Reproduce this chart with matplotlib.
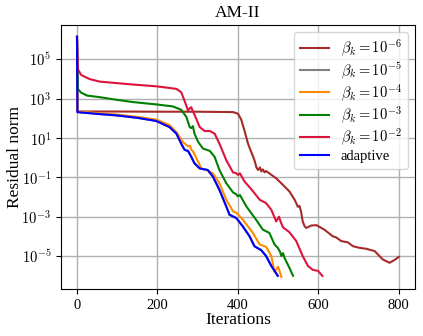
import numpy as np
import matplotlib.pyplot as plt
from matplotlib.ticker import FuncFormatter

plt.rcParams['font.family'] = ['Liberation Serif', 'DejaVu Serif']
plt.rcParams['mathtext.fontset'] = 'cm'

# iteration numbers and log10 of the residual norm
it_adapt = [0, 1, 50, 100, 150, 197, 230, 247, 259, 267, 272, 276, 284, 292, 305, 325, 338,
            354, 371, 379, 396, 412, 429, 441, 458, 470, 483, 499]
lg_adapt = [6.13, 2.31, 2.22, 2.14, 2.02, 1.86, 1.55, 1.22, 0.71, 0.41, 0.36, 0.34, 0.04, -0.29,
            -0.55, -0.63, -0.97, -1.64, -2.48, -2.90, -3.07, -3.49, -4.0, -4.5, -4.7, -5.0, -5.5, -6.0]

it_b4 = [0, 1, 50, 100, 150, 197, 230, 247, 263, 276, 281, 284, 288, 296, 309, 325, 338, 354,
         371, 388, 396, 412, 437, 454, 470, 483, 491, 500, 508]
lg_b4 = [6.13, 2.35, 2.26, 2.18, 2.07, 1.93, 1.65, 1.3, 0.8, 0.57, 0.6, 0.4, 0.33, 0.0, -0.55,
         -0.66, -0.80, -1.3, -2.14, -2.73, -2.8, -3.15, -3.82, -4.41, -4.53, -5.0, -5.81, -5.54, -6.06]

it_b3 = [0, 2, 10, 25, 56, 100, 139, 197, 238, 259, 272, 280, 284, 288, 292, 301, 313, 330, 342,
         354, 371, 388, 395, 400, 405, 421, 445, 462, 478, 491, 499, 505, 508, 512, 516, 528, 537]
lg_b3 = [6.13, 3.49, 3.3, 3.15, 3.07, 2.93, 2.82, 2.70, 2.6, 2.43, 2.06, 1.55, 1.5, 1.6, 1.22, 0.8,
         0.46, 0.34, 0.04, -0.63, -1.3, -1.77, -1.85, -1.97, -1.9, -2.48, -3.15, -3.66, -3.82, -4.41,
         -4.58, -4.8, -5.0, -4.85, -5.1, -5.6, -6.0]

it_b2 = [0, 2, 10, 31, 56, 100, 139, 197, 247, 259, 267, 276, 280, 284, 288, 292, 305, 317, 330,
         342, 354, 371, 388, 395, 400, 405, 416, 437, 454, 470, 483, 495, 502, 507, 512, 528, 545,
         561, 574, 586, 599, 610]
lg_b2 = [6.13, 4.5, 4.2, 3.99, 3.86, 3.78, 3.71, 3.62, 3.49, 3.32, 2.9, 2.39, 2.5, 2.56, 2.35, 2.18,
         1.55, 1.35, 1.35, 1.22, 0.71, -0.13, -0.76, -0.78, -0.88, -0.8, -1.2, -1.7, -2.14, -2.31,
         -2.65, -3.24, -3.0, -3.3, -3.54, -3.79, -4.24, -5.0, -5.5, -5.7, -5.75, -6.01]

it_b6 = [0, 1, 100, 200, 300, 388, 400, 408, 416, 425, 433, 441, 446, 450, 455, 458, 462, 466, 470,
         478, 495, 512, 528, 541, 549, 553, 557, 561, 566, 570, 582, 595, 615, 636, 644, 657, 673,
         686, 702, 719, 740, 760, 777, 789, 800]
lg_b6 = [6.13, 2.34, 2.34, 2.33, 2.33, 2.31, 2.23, 1.94, 1.39, 0.71, 0.29, -0.13, -0.5, -0.63, -0.5,
         -0.7, -0.6, -0.75, -0.68, -0.8, -1.05, -1.39, -1.72, -2.14, -2.5, -2.45, -2.75, -3.24, -3.5,
         -3.57, -3.45, -3.43, -3.66, -4.0, -4.05, -4.24, -4.3, -4.5, -4.58, -4.63, -4.75, -5.17,
         -5.34, -5.2, -5.04]

# beta_k = 1e-5 is hidden under the adaptive curve
it_b5 = it_adapt
lg_b5 = lg_adapt

fig = plt.figure(figsize=(4.23, 3.36), dpi=100)
ax = fig.add_axes([0.144, 0.14, 0.837, 0.786])

ax.semilogy(it_b6, 10.0 ** np.array(lg_b6), color='brown', lw=1.5, label=r'$\beta_k = 10^{-6}$')
ax.semilogy(it_b5, 10.0 ** np.array(lg_b5), color='gray', lw=1.5, label=r'$\beta_k = 10^{-5}$')
ax.semilogy(it_b4, 10.0 ** np.array(lg_b4), color='darkorange', lw=1.5, label=r'$\beta_k = 10^{-4}$')
ax.semilogy(it_b3, 10.0 ** np.array(lg_b3), color='green', lw=1.5, label=r'$\beta_k = 10^{-3}$')
ax.semilogy(it_b2, 10.0 ** np.array(lg_b2), color='crimson', lw=1.5, label=r'$\beta_k = 10^{-2}$')
ax.semilogy(it_adapt, 10.0 ** np.array(lg_adapt), color='blue', lw=1.5, label='adaptive')

ax.set_yticks([1e-5, 1e-3, 1e-1, 1e1, 1e3, 1e5])
ax.yaxis.set_major_formatter(FuncFormatter(lambda v, p: r'$10^{%d}$' % round(np.log10(v))))
ax.minorticks_off()
ax.set_xticks([0, 200, 400, 600, 800])
ax.tick_params(labelsize=10.5)
ax.grid(True, color='#b0b0b0', lw=1)
ax.set_title('AM-II', fontsize=12.5)
ax.set_xlabel('Iterations', fontsize=12.5, labelpad=0)
ax.set_ylabel('Residual norm', fontsize=12.5)
ax.yaxis.set_label_coords(-0.106, 0.5)
ax.legend(loc='upper right', fontsize=10.5, labelspacing=0.08, handlelength=2.0)

fig.savefig('out.png', dpi=100)
